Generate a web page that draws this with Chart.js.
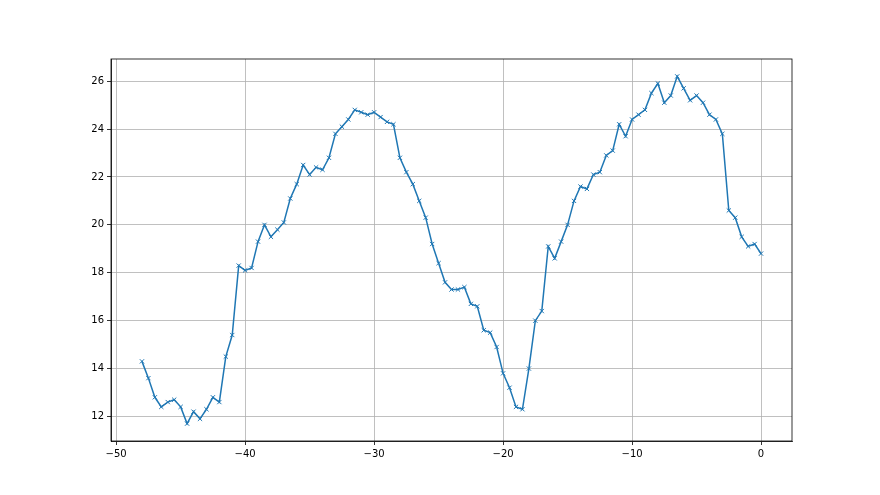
<!DOCTYPE html>
<html>
<head>
<meta charset="utf-8">
<script src="https://cdn.jsdelivr.net/npm/chart.js@4/dist/chart.umd.min.js"></script>
<style>
html,body{margin:0;padding:0;background:#fff;}
#wrap{width:880px;height:495px;}
</style>
</head>
<body>
<div id="wrap"><canvas id="c" width="880" height="495"></canvas></div>
<script>
const xValues = [-48,-47.5,-47,-46.5,-46,-45.5,-45,-44.5,-44,-43.5,-43,-42.5,-42,-41.5,-41,-40.5,-40,-39.5,-39,-38.5,-38,-37.5,-37,-36.5,-36,-35.5,-35,-34.5,-34,-33.5,-33,-32.5,-32,-31.5,-31,-30.5,-30,-29.5,-29,-28.5,-28,-27.5,-27,-26.5,-26,-25.5,-25,-24.5,-24,-23.5,-23,-22.5,-22,-21.5,-21,-20.5,-20,-19.5,-19,-18.5,-18,-17.5,-17,-16.5,-16,-15.5,-15,-14.5,-14,-13.5,-13,-12.5,-12,-11.5,-11,-10.5,-10,-9.5,-9,-8.5,-8,-7.5,-7,-6.5,-6,-5.5,-5,-4.5,-4,-3.5,-3,-2.5,-2,-1.5,-1,-0.5,0];
const yValues = [14.3,13.6,12.8,12.4,12.6,12.7,12.4,11.7,12.2,11.9,12.3,12.8,12.6,14.5,15.4,18.3,18.1,18.2,19.3,20.0,19.5,19.8,20.1,21.1,21.7,22.5,22.1,22.4,22.3,22.8,23.8,24.1,24.4,24.8,24.7,24.6,24.7,24.5,24.3,24.2,22.8,22.2,21.7,21.0,20.3,19.2,18.4,17.6,17.3,17.3,17.4,16.7,16.6,15.6,15.5,14.9,13.8,13.2,12.4,12.3,14.0,16.0,16.4,19.1,18.6,19.3,20.0,21.0,21.6,21.5,22.1,22.2,22.9,23.1,24.2,23.7,24.4,24.6,24.8,25.5,25.9,25.1,25.4,26.2,25.7,25.2,25.4,25.1,24.6,24.4,23.8,20.6,20.3,19.5,19.1,19.2,18.8];
const xTicks = [-50,-40,-30,-20,-10,0];
const yTicks = [12,14,16,18,20,22,24,26];

const points = xValues.map((x, i) => ({x: x, y: yValues[i]}));
const fmt = v => (v < 0 ? '\u2212' + Math.abs(v) : String(v));

const frame = {
  id: 'frame',
  afterDraw(chart) {
    const a = chart.chartArea, ctx = chart.ctx;
    ctx.save();
    ctx.strokeStyle = '#000';
    ctx.lineWidth = 0.8;
    ctx.strokeRect(a.left, a.top, a.right - a.left, a.bottom - a.top);
    ctx.restore();
  }
};
const bg = {
  id: 'bg',
  beforeDraw(chart) {
    const ctx = chart.ctx;
    ctx.save();
    ctx.fillStyle = '#fff';
    ctx.fillRect(0, 0, chart.width, chart.height);
    ctx.restore();
  }
};

new Chart(document.getElementById('c'), {
  type: 'line',
  data: {
    datasets: [{
      data: points,
      borderColor: '#1f77b4',
      backgroundColor: '#1f77b4',
      borderWidth: 1.5,
      tension: 0,
      fill: false,
      pointStyle: 'crossRot',
      pointRadius: 3,
      pointBorderWidth: 1,
      pointBorderColor: '#1f77b4',
      pointHoverRadius: 3
    }]
  },
  options: {
    responsive: false,
    animation: false,
    devicePixelRatio: 1,
    layout: {padding: {left: 0, top: 59, right: 88, bottom: 0}},
    plugins: {legend: {display: false}, tooltip: {enabled: false}},
    scales: {
      x: {
        type: 'linear',
        min: -50.4,
        max: 2.4,
        afterBuildTicks: s => { s.ticks = xTicks.map(v => ({value: v})); },
        afterFit: s => { s.height = 54; },
        grid: {color: '#b0b0b0', lineWidth: 0.8, tickColor: '#000', tickLength: 4, drawTicks: true},
        border: {color: '#000', width: 0.8},
        ticks: {color: '#000', font: {family: 'DejaVu Sans', size: 10}, padding: 3, maxRotation: 0, callback: v => fmt(v)}
      },
      y: {
        type: 'linear',
        min: 10.975,
        max: 26.925,
        afterBuildTicks: s => { s.ticks = yTicks.map(v => ({value: v})); },
        afterFit: s => { s.width = 111; },
        grid: {color: '#b0b0b0', lineWidth: 0.8, tickColor: '#000', tickLength: 4, drawTicks: true},
        border: {color: '#000', width: 0.8},
        ticks: {color: '#000', font: {family: 'DejaVu Sans', size: 10}, padding: 3, callback: v => fmt(v)}
      }
    }
  },
  plugins: [bg, frame]
});
</script>
</body>
</html>
